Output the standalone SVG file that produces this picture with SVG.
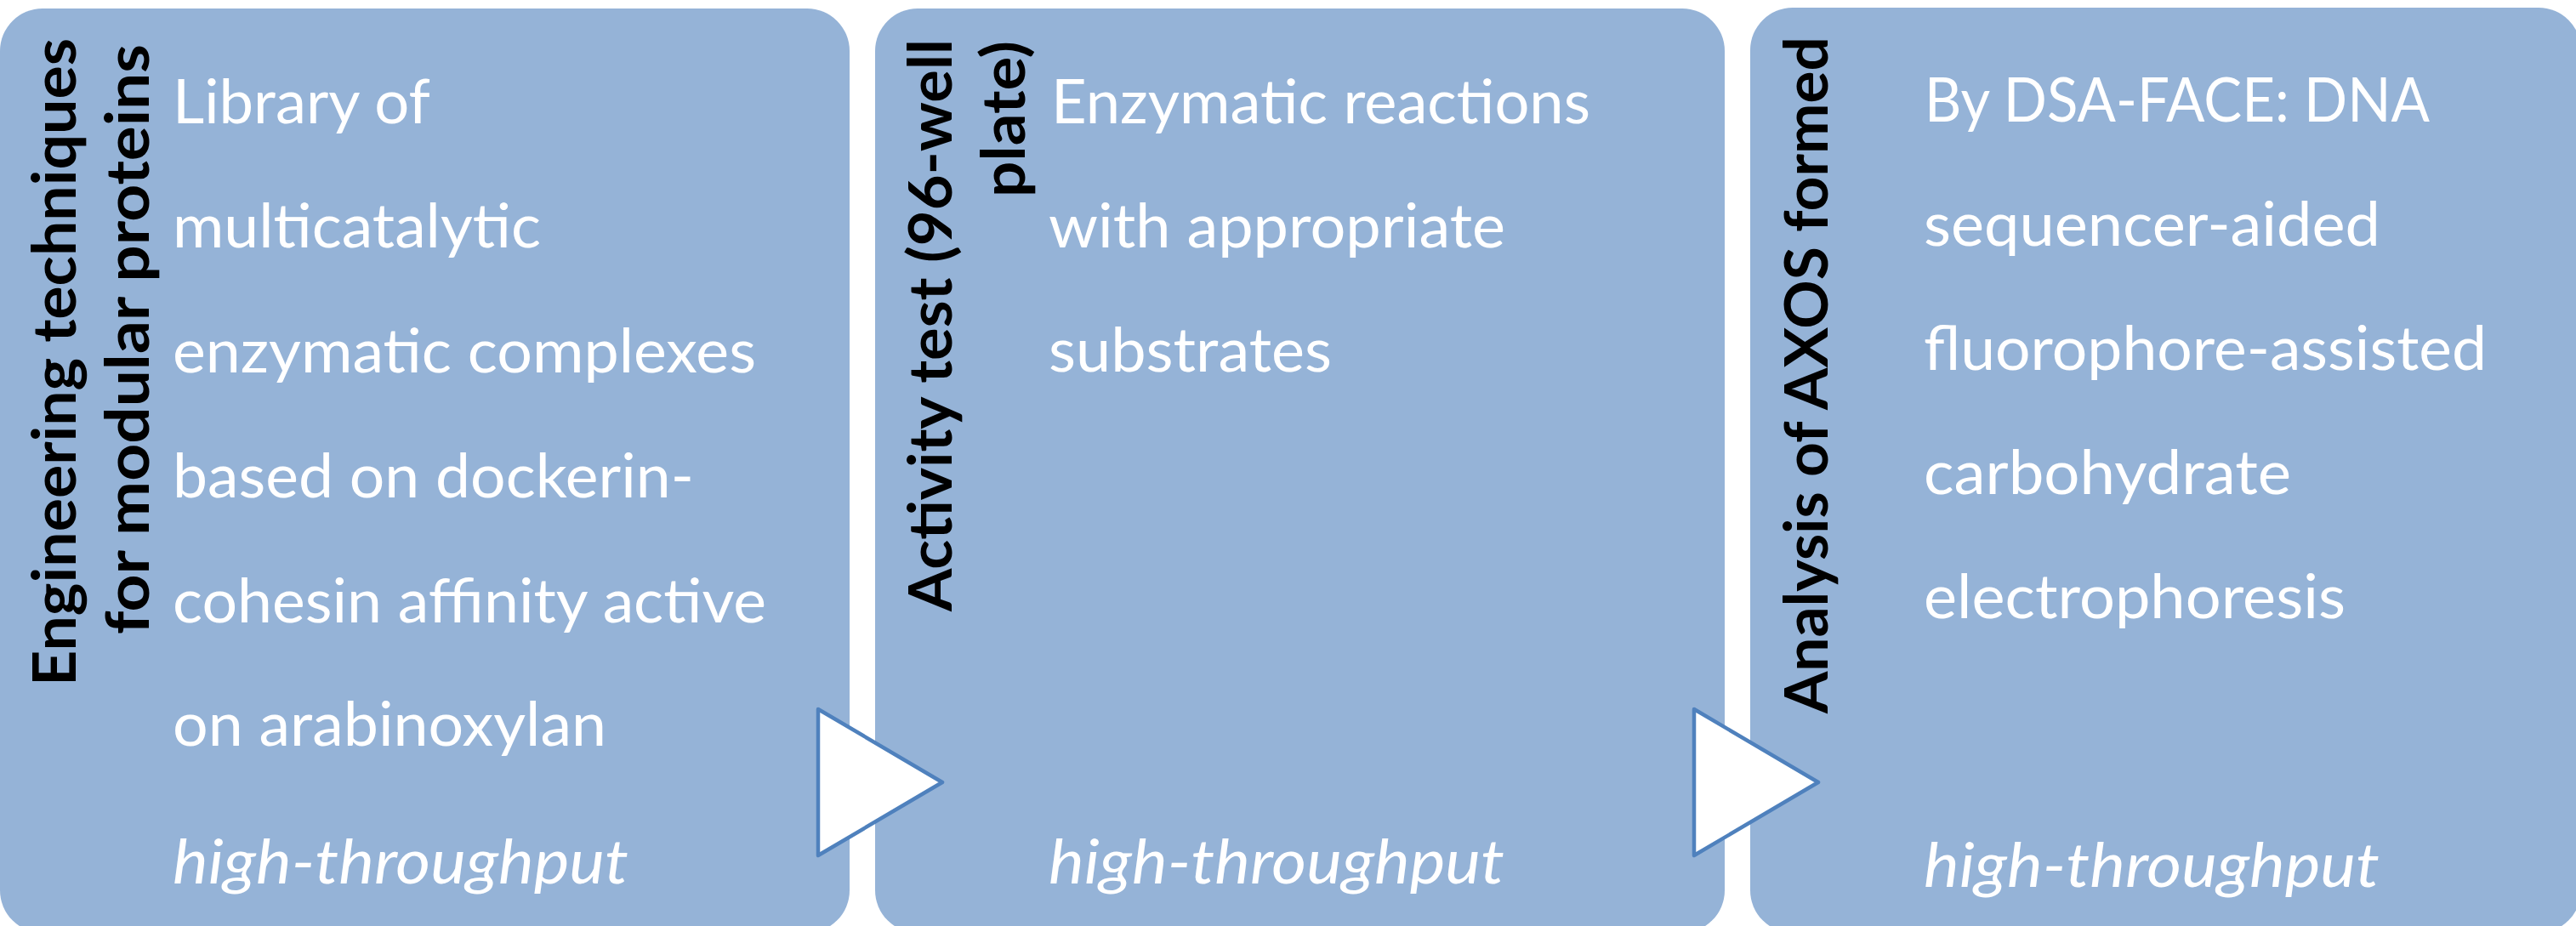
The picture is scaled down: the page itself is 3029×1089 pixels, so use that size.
<svg xmlns="http://www.w3.org/2000/svg" width="3029" height="1089" viewBox="0 0 3029 1089">
  <style>
    .box { fill: #95B3D7; }
    .title { font-family: Lato, "Liberation Sans", sans-serif; font-weight: 700; font-size: 71px; fill: #000000; }
    .body { font-family: Lato, "Liberation Sans", sans-serif; font-weight: 400; font-size: 71px; fill: #FFFFFF; }
    .note { font-style: italic; }
    .arrow { fill: #FFFFFF; stroke: #4F81BD; stroke-width: 4.5; stroke-linejoin: round; }
  </style>

  <rect x="0" y="0" width="3029" height="1089" fill="#FFFFFF"/>

  <!-- Step 1 -->
  <g id="step-engineering">
    <rect class="box" x="0" y="10" width="999" height="1087" rx="50" ry="50"/>
    <text class="title" transform="translate(89,807) rotate(-90)" textLength="762" lengthAdjust="spacingAndGlyphs">Engineering techniques</text>
    <text class="title" transform="translate(175,746) rotate(-90)" textLength="694" lengthAdjust="spacingAndGlyphs">for modular proteins</text>
    <text class="body" x="203" y="145" textLength="303" lengthAdjust="spacingAndGlyphs">Library of</text>
    <text class="body" x="203" y="291" textLength="433" lengthAdjust="spacingAndGlyphs">multicatalytic</text>
    <text class="body" x="203" y="438" textLength="686" lengthAdjust="spacingAndGlyphs">enzymatic complexes</text>
    <text class="body" x="203" y="585" textLength="613" lengthAdjust="spacingAndGlyphs">based on dockerin-</text>
    <text class="body" x="203" y="732" textLength="698" lengthAdjust="spacingAndGlyphs">cohesin affinity active</text>
    <text class="body" x="203" y="877" textLength="510" lengthAdjust="spacingAndGlyphs">on arabinoxylan</text>
    <text class="body note" x="203" y="1039" textLength="536" lengthAdjust="spacingAndGlyphs">high-throughput</text>
  </g>

  <!-- Step 2 -->
  <g id="step-activity">
    <rect class="box" x="1029" y="10" width="999" height="1087" rx="50" ry="50"/>
    <text class="title" transform="translate(1119,719) rotate(-90)" textLength="673" lengthAdjust="spacingAndGlyphs">Activity test (96-well</text>
    <text class="title" transform="translate(1205,232) rotate(-90)" textLength="184" lengthAdjust="spacingAndGlyphs">plate)</text>
    <text class="body" x="1236" y="145" textLength="634" lengthAdjust="spacingAndGlyphs">Enzymatic reactions</text>
    <text class="body" x="1233" y="291" textLength="537" lengthAdjust="spacingAndGlyphs">with appropriate</text>
    <text class="body" x="1233" y="437" textLength="333" lengthAdjust="spacingAndGlyphs">substrates</text>
    <text class="body note" x="1233" y="1039" textLength="536" lengthAdjust="spacingAndGlyphs">high-throughput</text>
  </g>

  <!-- Step 3 -->
  <g id="step-analysis">
    <rect class="box" x="2058" y="9" width="977" height="1088" rx="50" ry="50"/>
    <text class="title" transform="translate(2149,839) rotate(-90)" textLength="796" lengthAdjust="spacingAndGlyphs">Analysis of AXOS formed</text>
    <text class="body" x="2263" y="143" textLength="594" lengthAdjust="spacingAndGlyphs">By DSA-FACE: DNA</text>
    <text class="body" x="2262" y="289" textLength="537" lengthAdjust="spacingAndGlyphs">sequencer-aided</text>
    <text class="body" x="2262" y="435" textLength="662" lengthAdjust="spacingAndGlyphs">fluorophore-assisted</text>
    <text class="body" x="2262" y="581" textLength="432" lengthAdjust="spacingAndGlyphs">carbohydrate</text>
    <text class="body" x="2262" y="727" textLength="496" lengthAdjust="spacingAndGlyphs">electrophoresis</text>
    <text class="body note" x="2262" y="1043" textLength="536" lengthAdjust="spacingAndGlyphs">high-throughput</text>
  </g>

  <!-- Flow arrows between steps -->
  <g id="connectors">
    <polygon class="arrow" points="962,834 1108,920 962,1006"/>
    <polygon class="arrow" points="1992,834 2138,920 1992,1006"/>
  </g>
</svg>
